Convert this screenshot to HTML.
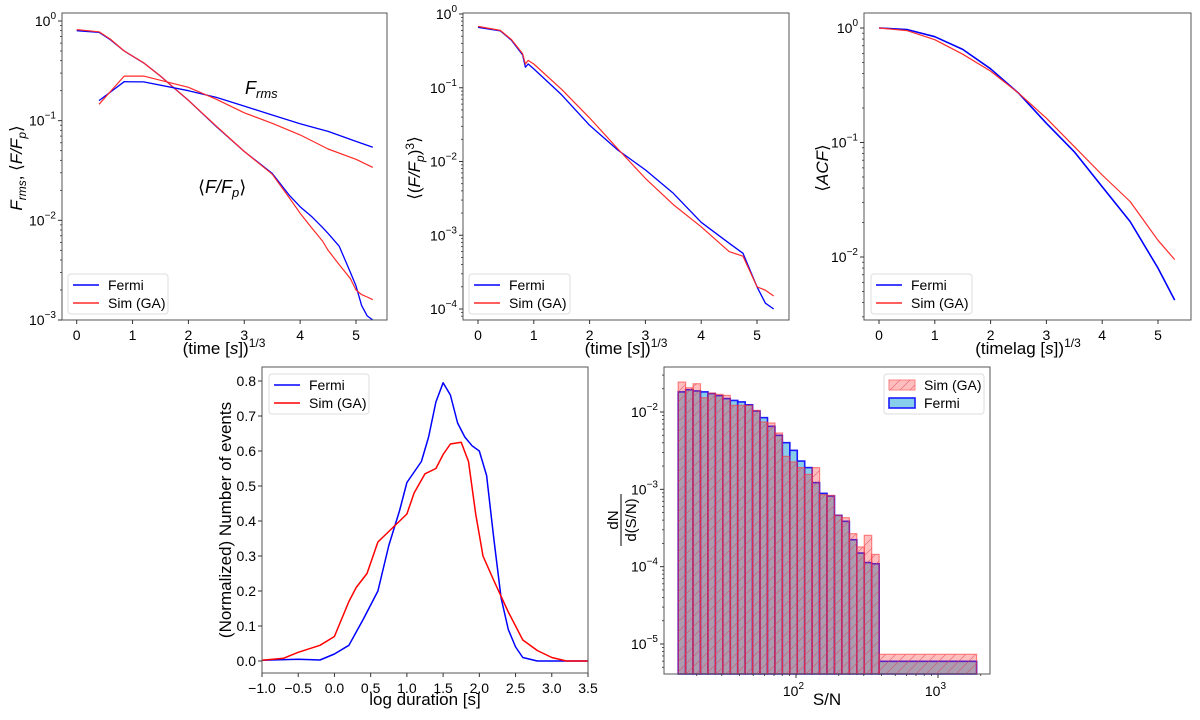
<!DOCTYPE html>
<html><head><meta charset="utf-8">
<style>
html,body{margin:0;padding:0;background:#fff;}
svg{display:block;font-family:"Liberation Sans","DejaVu Sans",sans-serif;}
</style></head>
<body>
<svg id="fig" width="1200" height="720" viewBox="0 0 1200 720" xmlns="http://www.w3.org/2000/svg">
<defs>
<pattern id="hatch" patternUnits="userSpaceOnUse" width="10" height="10">
<path d="M0,10 L10,0 M-2,2 L2,-2 M8,12 L12,8" stroke="#e0405a" stroke-width="0.6" opacity="0.8"/>
</pattern>
</defs>
</svg>
<script>
// ---------- Panel 1 data: F/Fp mean and Frms ----------
const p1X = [0,0.4,0.6,0.85,1.2,1.5,1.8,2.0,2.5,3.0,3.5,3.8,4.0,4.2,4.4,4.5,4.7,4.9,5.0,5.1,5.2,5.3];
const p1MeanFermi = [0.8,0.77,0.65,0.5,0.38,0.28,0.2,0.16,0.087,0.049,0.0296,0.018,0.0137,0.011,0.0085,0.0074,0.0055,0.003,0.0022,0.0014,0.0011,0.001];
const p1MeanSim = [0.82,0.78,0.66,0.5,0.38,0.28,0.2,0.16,0.088,0.049,0.029,0.017,0.0118,0.0085,0.0062,0.005,0.0036,0.0026,0.002,0.0018,0.0017,0.0016];
const p1RmsX = [0.4,0.85,1.2,2.0,2.5,3.0,3.5,4.0,4.5,5.0,5.3];
const p1RmsFermi = [0.159,0.246,0.245,0.2,0.171,0.14,0.114,0.093,0.078,0.062,0.054];
const p1RmsSim = [0.146,0.28,0.28,0.216,0.164,0.12,0.094,0.072,0.052,0.041,0.034];
const p1YTicks = [0,-1,-2,-3];
const p1XTicks = [0,1,2,3,4,5];
// ---------- Panel 2 data: <(F/Fp)^3> ----------
const p2X = [0,0.4,0.6,0.8,0.85,0.9,1.0,1.5,2.0,2.5,3.0,3.5,4.0,4.5,4.75,5.0,5.15,5.3];
const p2Fermi = [0.66,0.59,0.44,0.28,0.19,0.21,0.18,0.08,0.031,0.0144,0.0077,0.0037,0.0015,0.00078,0.00057,0.0002,0.00012,0.0001];
const p2Sim = [0.68,0.6,0.45,0.29,0.21,0.235,0.21,0.095,0.039,0.015,0.0059,0.0026,0.0013,0.0006,0.00052,0.0002,0.00018,0.00015];
const p2YTicks = [0,-1,-2,-3,-4];
// ---------- Panel 3 data: ACF ----------
const p3X = [0,0.5,1.0,1.5,2.0,2.5,3.0,3.5,4.0,4.5,5.0,5.3];
const p3Fermi = [1.0,0.97,0.84,0.65,0.44,0.27,0.147,0.083,0.041,0.0204,0.008,0.0042];
const p3Sim = [1.0,0.95,0.79,0.59,0.42,0.27,0.163,0.092,0.052,0.0305,0.014,0.0095];
const p3YTicks = [0,-1,-2];
// ---------- Panel 4 data: duration KDE ----------
const p4FermiX = [-1,-0.5,-0.2,0,0.2,0.4,0.6,0.75,0.9,1.0,1.2,1.3,1.4,1.5,1.6,1.7,1.8,1.9,2.0,2.1,2.2,2.3,2.4,2.5,2.6,2.8,3.5];
const p4FermiY = [0.002,0.005,0.003,0.02,0.045,0.12,0.2,0.33,0.43,0.51,0.57,0.64,0.74,0.795,0.76,0.68,0.64,0.615,0.6,0.53,0.35,0.18,0.09,0.04,0.01,0,0];
const p4SimX = [-1,-0.7,-0.5,-0.2,0,0.2,0.3,0.45,0.6,0.8,1.0,1.1,1.25,1.4,1.5,1.6,1.75,1.85,1.95,2.05,2.2,2.4,2.6,2.8,3.0,3.2,3.5];
const p4SimY = [0.002,0.008,0.025,0.045,0.07,0.17,0.21,0.25,0.34,0.38,0.42,0.48,0.535,0.55,0.59,0.62,0.625,0.57,0.42,0.3,0.23,0.14,0.06,0.03,0.01,0,0];
const p4XTicks = ["-1.0","-0.5","0.0","0.5","1.0","1.5","2.0","2.5","3.0","3.5"];
const p4YTicks = ["0.0","0.1","0.2","0.3","0.4","0.5","0.6","0.7","0.8"];
// ---------- Panel 5 data: S/N histogram ----------
const p5Fermi = [1.82e-2,1.94e-2,1.87e-2,1.82e-2,1.73e-2,1.63e-2,1.49e-2,1.41e-2,1.35e-2,1.24e-2,1.03e-2,8.45e-3,6.53e-3,4.99e-3,4.01e-3,3.19e-3,2.32e-3,1.91e-3,1.22e-3,8.87e-4,8.2e-4,4.61e-4,3.86e-4,2.23e-4,1.5e-4,1.13e-4,1.09e-4,5.97e-6];
const p5Sim = [2.44e-2,2.06e-2,2.32e-2,1.53e-2,1.76e-2,1.69e-2,1.64e-2,1.22e-2,1.22e-2,1.22e-2,1.05e-2,7.43e-3,7.21e-3,5.35e-3,2.67e-3,2.26e-3,1.91e-3,1.56e-3,1.91e-3,8.53e-4,8.36e-4,4.61e-4,4.3e-4,2.67e-4,1.8e-4,2.54e-4,1.44e-4,7.36e-6];
const p5BinLo = 14.8, p5BinHi = 385, p5LastHi = 1870;
const p5YTicks = [-2,-3,-4,-5];
const p5XTicks = [2,3];

const NS='http://www.w3.org/2000/svg';
const svg=document.getElementById('fig');
const TF=14, AF=17;
function mk(tag,attrs,parent){const e=document.createElementNS(NS,tag);for(const k in attrs)e.setAttribute(k,attrs[k]);(parent||svg).appendChild(e);return e;}
function txt(x,y,s,size,anchor,parent){const t=mk('text',{x:x,y:y,'font-size':size,'text-anchor':anchor||'middle',fill:'#000'},parent);t.textContent=s;return t;}
function expLabel(x,y,e,parent){const t=mk('text',{x:x,y:y,'font-size':TF,'text-anchor':'end',fill:'#000'},parent);
 const a=document.createElementNS(NS,'tspan');a.textContent='10';t.appendChild(a);
 const b=document.createElementNS(NS,'tspan');b.setAttribute('dy','-7');b.setAttribute('font-size','10');b.textContent=(e<0?'\u2212':'')+Math.abs(e);t.appendChild(b);return t;}
function frame(g,L,T,R,B){const r=mk('rect',{x:L,y:T,width:R-L,height:B-T,fill:'none',stroke:'#555','stroke-width':1},g);}
function line(g,xs,ys,sx,sy,color,w,name){const pts=xs.map((x,i)=>sx(x).toFixed(1)+','+sy(ys[i]).toFixed(1)).join(' ');const p=mk('polyline',{points:pts,fill:'none',stroke:color,'stroke-width':w||1.3,'stroke-linejoin':'round'},g);return p;}
function legend(g,x,y,w,items){const lg=mk('g',{},g);
 mk('rect',{x:x,y:y,width:w,height:40,rx:3,fill:'#fff',stroke:'#ddd','fill-opacity':0.85},lg);
 items.forEach((it,i)=>{const e=mk('g',{},lg);
  const yy=y+11+i*18;
  if(it.patch){mk('rect',{x:x+5,y:yy-5,width:26,height:10,fill:it.fill,stroke:it.stroke,'stroke-width':it.sw||1},e);if(it.hatch)mk('rect',{x:x+5,y:yy-5,width:26,height:10,fill:'url(#hatch)'},e);}
  else mk('line',{x1:x+5,y1:yy,x2:x+31,y2:yy,stroke:it.color,'stroke-width':1.5},e);
  txt(x+40,yy+5,it.label,TF,'start',e);});}
function logTicks(g,L,sy,decLo,decHi,T,B){for(let d=decLo;d<decHi;d++){for(let m=2;m<=9;m++){const v=Math.log10(m)+d;const y=sy(Math.pow(10,v));if(y>T&&y<B)mk('line',{x1:L-2,y1:y,x2:L,y2:y,stroke:'#333','stroke-width':0.8},g);}}}
function lin(d0,d1,p0,p1){return v=>p0+(v-d0)*(p1-p0)/(d1-d0);}
function logS(e0,p0,e1,p1){return v=>p0+(Math.log10(v)-e0)*(p1-p0)/(e1-e0);}
function named(el,n){return el;}

// ===== Panel 1 =====
(function(){const g=named(mk('g',{}),'panel-flux-profile');
 const L=62,T=13,R=387,B=320;const sx=lin(0,5,76.7,356);const sy=logS(0,21,-3,320);
 line(g,p1X,p1MeanFermi,sx,sy,'#0000ff',1.3,'mean-flux-fermi');
 line(g,p1X,p1MeanSim,sx,sy,'#ff2a2a',1.2,'mean-flux-sim');
 line(g,p1RmsX,p1RmsFermi,sx,sy,'#0000ff',1.3,'rms-flux-fermi');
 line(g,p1RmsX,p1RmsSim,sx,sy,'#ff2a2a',1.2,'rms-flux-sim');
 frame(g,L,T,R,B);
 p1XTicks.forEach(v=>{const x=sx(v);mk('line',{x1:x,y1:B,x2:x,y2:B+4,stroke:'#333'},g);txt(x,B+20,String(v),TF,'middle',g);});
 p1YTicks.forEach(e=>{const y=sy(Math.pow(10,e));mk('line',{x1:L-4,y1:y,x2:L,y2:y,stroke:'#333'},g);expLabel(L-6,y+5,e,g);});
 logTicks(g,L,sy,-3,0,T,B);
 const t=named(mk('text',{x:224,y:354,'font-size':AF,'text-anchor':'middle'},g),'x-axis-title');t.innerHTML='(time [<tspan font-style="italic">s</tspan>])<tspan dy="-7" font-size="12">1/3</tspan>';
 const yl=named(mk('text',{x:0,y:0,'font-size':AF,'text-anchor':'middle',transform:'translate(22,168) rotate(-90)'},g),'y-axis-title');yl.innerHTML='<tspan font-style="italic">F</tspan><tspan font-style="italic" font-size="12" dy="4">rms</tspan><tspan dy="-4">,    ⟨</tspan><tspan font-style="italic">F/F</tspan><tspan font-style="italic" font-size="12" dy="4">p</tspan><tspan dy="-4">⟩</tspan>';
 const a1=named(mk('text',{x:245,y:94,'font-size':18},g),'frms-annotation');a1.innerHTML='<tspan font-style="italic">F</tspan><tspan font-style="italic" font-size="13" dy="4">rms</tspan>';
 const a2=named(mk('text',{x:198,y:193,'font-size':18},g),'mean-flux-annotation');a2.innerHTML='⟨<tspan font-style="italic">F/F</tspan><tspan font-style="italic" font-size="13" dy="4">p</tspan><tspan dy="-4">⟩</tspan>';
 legend(g,68,274,100,[{key:'fermi',label:'Fermi',color:'#0000ff'},{key:'sim',label:'Sim (GA)',color:'#ff2a2a'}]);
})();

// ===== Panel 2 =====
(function(){const g=named(mk('g',{}),'panel-cubed-flux');
 const L=463,T=13,R=789,B=320;const sx=lin(0,5,478,757);const sy=logS(0,14,-4,309);
 line(g,p2X,p2Fermi,sx,sy,'#0000ff',1.3,'cubed-flux-fermi');
 line(g,p2X,p2Sim,sx,sy,'#ff2a2a',1.2,'cubed-flux-sim');
 frame(g,L,T,R,B);
 p1XTicks.forEach(v=>{const x=sx(v);mk('line',{x1:x,y1:B,x2:x,y2:B+4,stroke:'#333'},g);txt(x,B+20,String(v),TF,'middle',g);});
 p2YTicks.forEach(e=>{const y=sy(Math.pow(10,e));mk('line',{x1:L-4,y1:y,x2:L,y2:y,stroke:'#333'},g);expLabel(L-6,y+5,e,g);});
 logTicks(g,L,sy,-5,0,T,B);
 const t=named(mk('text',{x:626,y:354,'font-size':AF,'text-anchor':'middle'},g),'x-axis-title');t.innerHTML='(time [<tspan font-style="italic">s</tspan>])<tspan dy="-7" font-size="12">1/3</tspan>';
 const yl=named(mk('text',{x:0,y:0,'font-size':AF,'text-anchor':'middle',transform:'translate(420,168) rotate(-90)'},g),'y-axis-title');yl.innerHTML='⟨(<tspan font-style="italic">F/F</tspan><tspan font-style="italic" font-size="12" dy="4">p</tspan><tspan dy="-4">)</tspan><tspan dy="-6" font-size="12">3</tspan><tspan dy="6">⟩</tspan>';
 legend(g,469,274,101,[{key:'fermi',label:'Fermi',color:'#0000ff'},{key:'sim',label:'Sim (GA)',color:'#ff2a2a'}]);
})();

// ===== Panel 3 =====
(function(){const g=named(mk('g',{}),'panel-acf');
 const L=864,T=13,R=1191,B=320;const sx=lin(0,5,879,1158);const sy=logS(0,28,-2,257);
 line(g,p3X,p3Fermi,sx,sy,'#0000ff',1.6,'acf-fermi');
 line(g,p3X,p3Sim,sx,sy,'#ff2a2a',1.2,'acf-sim');
 frame(g,L,T,R,B);
 p1XTicks.forEach(v=>{const x=sx(v);mk('line',{x1:x,y1:B,x2:x,y2:B+4,stroke:'#333'},g);txt(x,B+20,String(v),TF,'middle',g);});
 p3YTicks.forEach(e=>{const y=sy(Math.pow(10,e));mk('line',{x1:L-4,y1:y,x2:L,y2:y,stroke:'#333'},g);expLabel(L-6,y+5,e,g);});
 logTicks(g,L,sy,-3,1,T,B);
 const t=named(mk('text',{x:1028,y:354,'font-size':AF,'text-anchor':'middle'},g),'x-axis-title');t.innerHTML='(timelag [<tspan font-style="italic">s</tspan>])<tspan dy="-7" font-size="12">1/3</tspan>';
 const yl=named(mk('text',{x:0,y:0,'font-size':AF,'text-anchor':'middle',transform:'translate(828,168) rotate(-90)'},g),'y-axis-title');yl.innerHTML='⟨<tspan font-style="italic">ACF</tspan>⟩';
 legend(g,871,274,101,[{key:'fermi',label:'Fermi',color:'#0000ff'},{key:'sim',label:'Sim (GA)',color:'#ff2a2a'}]);
})();

// ===== Panel 4 =====
(function(){const g=named(mk('g',{}),'panel-duration-distribution');
 const L=262,T=367,R=588,B=673;const sx=lin(-1,3.5,262,588);const sy=lin(0,0.8,661,381);
 line(g,p4FermiX,p4FermiY,sx,sy,'#0000ff',1.5,'duration-fermi');
 line(g,p4SimX,p4SimY,sx,sy,'#ff0000',1.5,'duration-sim');
 frame(g,L,T,R,B);
 p4XTicks.forEach(s=>{const v=parseFloat(s);const x=sx(v);mk('line',{x1:x,y1:B,x2:x,y2:B+4,stroke:'#333'},g);txt(x,B+20,s.replace('-','\u2212'),TF,'middle',g);});
 p4YTicks.forEach(s=>{const y=sy(parseFloat(s));mk('line',{x1:L-4,y1:y,x2:L,y2:y,stroke:'#333'},g);txt(L-6,y+5,s,TF,'end',g);});
 named(txt(425,705,'log duration [s]',AF,'middle',g),'x-axis-title');
 const yl=named(mk('text',{x:0,y:0,'font-size':AF,'text-anchor':'middle',transform:'translate(231,520) rotate(-90)'},g),'y-axis-title');yl.textContent='(Normalized) Number of events';
 legend(g,269,374,100,[{key:'fermi',label:'Fermi',color:'#0000ff'},{key:'sim',label:'Sim (GA)',color:'#ff0000'}]);
})();

// ===== Panel 5 =====
(function(){const g=named(mk('g',{}),'panel-sn-histogram');
 const L=664,T=367,R=990,B=674;const sx=logS(2,796,3,938);const sy=logS(-2,412,-5,644);
 const nb=p5Fermi.length-1;const lo=Math.log10(p5BinLo),hi=Math.log10(p5BinHi);
 const edges=[];for(let i=0;i<=nb;i++)edges.push(Math.pow(10,lo+(hi-lo)*i/nb));edges.push(p5LastHi);
 const draw=(vals,fill,stroke,sw,name,hatch,op)=>{vals.forEach((v,i)=>{const x0=sx(edges[i]),x1=sx(edges[i+1]);const y=sy(v);
  const r=mk('rect',{x:x0,y:y,width:x1-x0,height:B-y,fill:fill,stroke:stroke,'stroke-width':sw,'stroke-opacity':op},g);
  if(hatch){const h=mk('rect',{x:x0,y:y,width:x1-x0,height:B-y,fill:'url(#hatch)'},g);}});};
 draw(p5Fermi,'#87ceeb','#1a1aff',1.6,'fermi',false,1);
 draw(p5Sim,'rgba(255,40,40,0.3)','#ff3030',1.2,'sim',true,0.55);
 frame(g,L,T,R,B);
 p5XTicks.forEach(e=>{const x=sx(Math.pow(10,e));mk('line',{x1:x,y1:B,x2:x,y2:B+4,stroke:'#333'},g);const t=expLabel(x+8,B+22,e,g);t.querySelector('tspan:last-child').textContent=String(e);});
 for(let d=1;d<=3;d++)for(let m=2;m<=9;m++){const v=Math.pow(10,d)*m;const x=sx(v);if(x>L&&x<R)mk('line',{x1:x,y1:B,x2:x,y2:B+2,stroke:'#333','stroke-width':0.8},g);}
 p5YTicks.forEach(e=>{const y=sy(Math.pow(10,e));mk('line',{x1:L-4,y1:y,x2:L,y2:y,stroke:'#333'},g);expLabel(L-6,y+5,e,g);});
 for(let d=-6;d<-1;d++)for(let m=2;m<=9;m++){const y=sy(m*Math.pow(10,d));if(y>T&&y<B)mk('line',{x1:L-2,y1:y,x2:L,y2:y,stroke:'#333','stroke-width':0.8},g);}
 named(txt(827,705,'S/N',AF,'middle',g),'x-axis-title');
 const yg=named(mk('g',{transform:'translate(620,520) rotate(-90)'},g),'y-axis-title');
 txt(0,-2,'dN',15,'middle',yg);mk('line',{x1:-26,y1:1,x2:26,y2:1,stroke:'#000','stroke-width':1},yg);txt(0,16,'d(S/N)',15,'middle',yg);
 legend(g,884,374,100,[{key:'sim',label:'Sim (GA)',patch:true,fill:'rgba(255,40,40,0.3)',stroke:'#ff8080',hatch:true},{key:'fermi',label:'Fermi',patch:true,fill:'#87ceeb',stroke:'#1a1aff',sw:1.6}]);
})();
</script>
</body></html>
